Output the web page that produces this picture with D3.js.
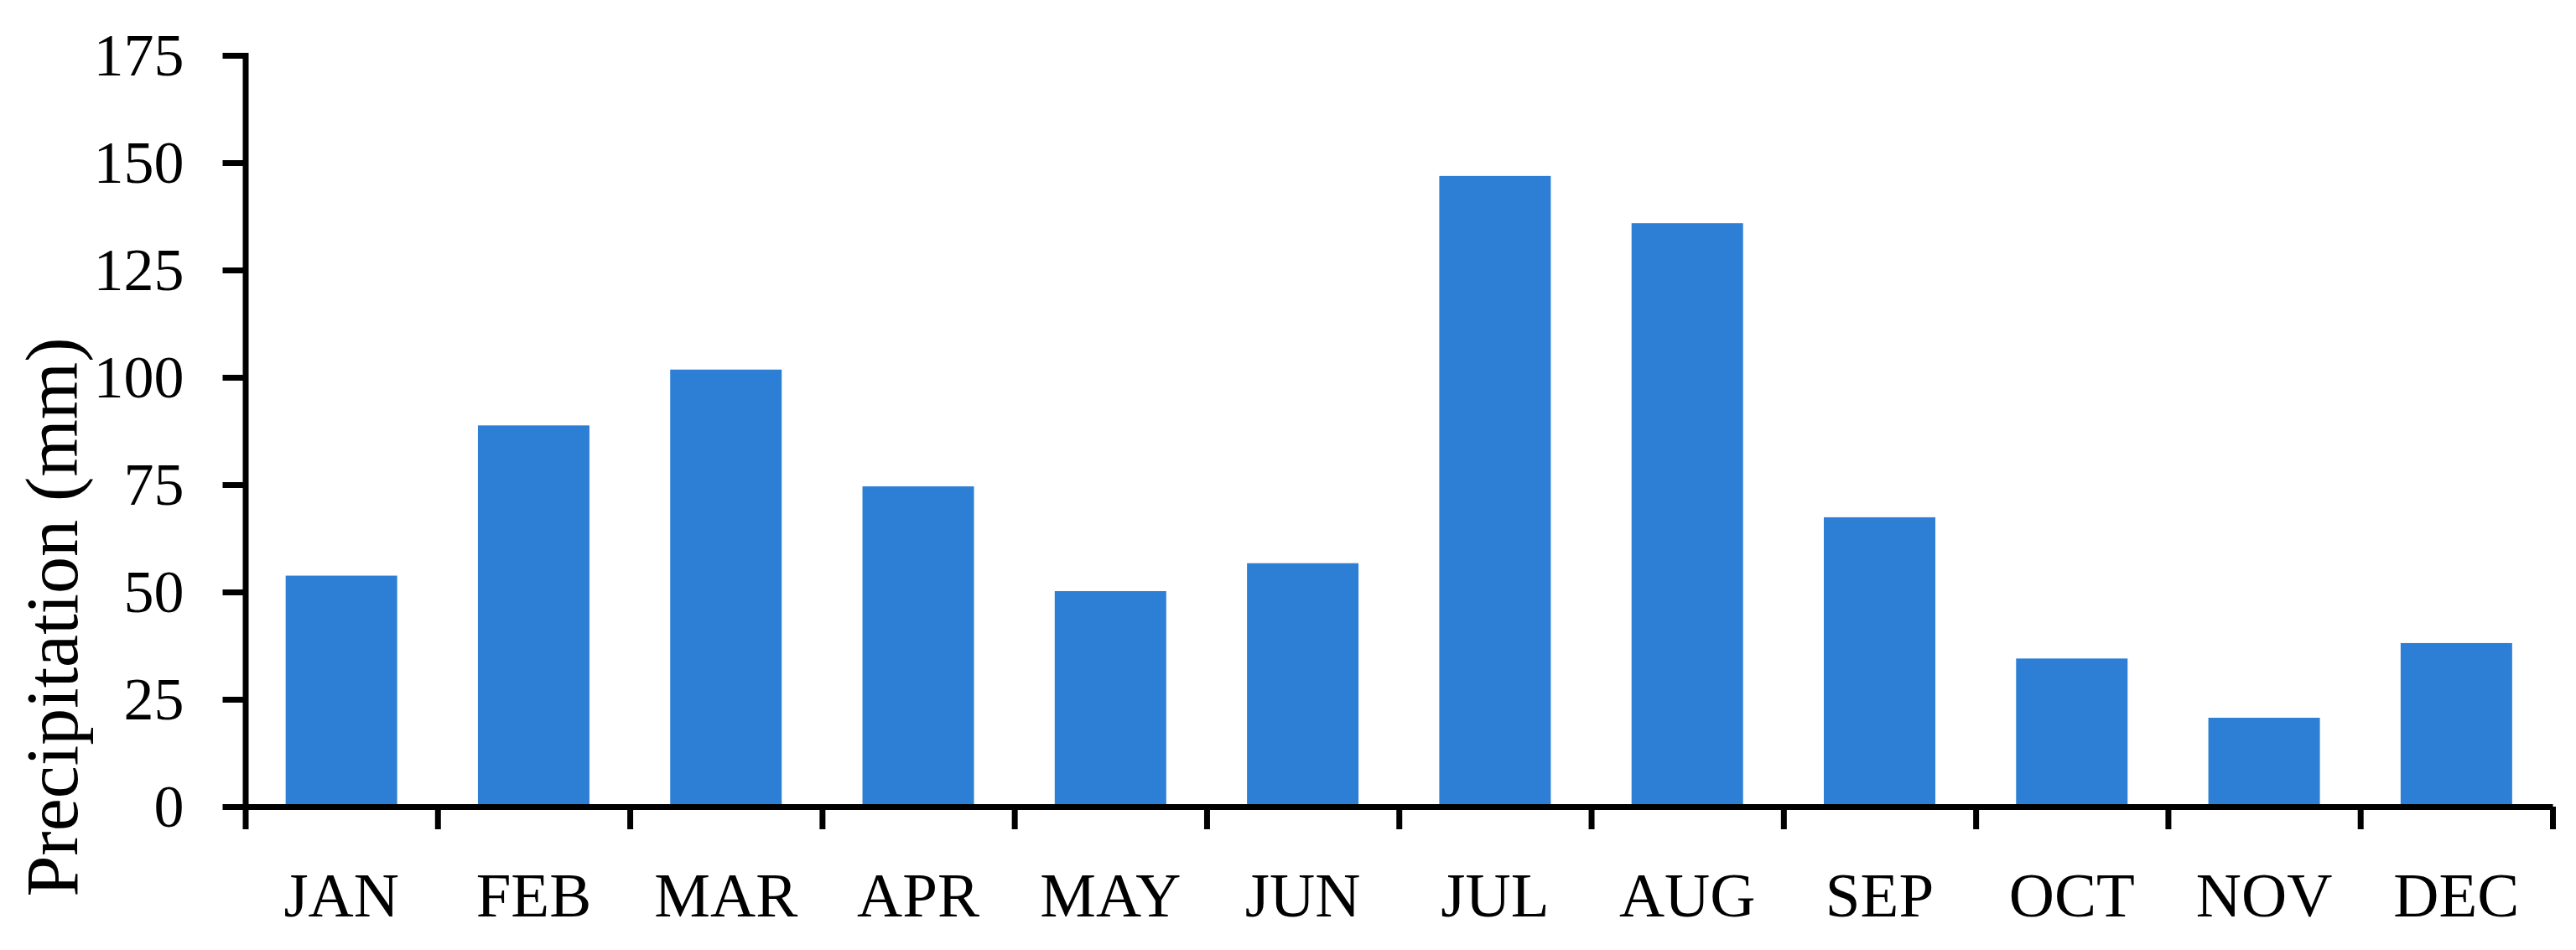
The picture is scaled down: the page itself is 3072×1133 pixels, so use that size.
<!DOCTYPE html>
<html>
<head>
<meta charset="utf-8">
<script src="https://cdn.jsdelivr.net/npm/d3@7"></script>
<style>
  body { margin: 0; background: #fff; }
  svg text { font-family: "Palatino Linotype", "Book Antiqua", Palatino, "Liberation Serif", "DejaVu Serif", serif; fill: #000; }
</style>
</head>
<body>
<script>
// monthly precipitation (mm)
const months = ["JAN", "FEB", "MAR", "APR", "MAY", "JUN", "JUL", "AUG", "SEP", "OCT", "NOV", "DEC"];
const precip = [53.8, 88.8, 101.8, 74.6, 50.2, 56.7, 146.9, 135.9, 67.4, 34.5, 20.7, 38.1];
const yTicks = [0, 25, 50, 75, 100, 125, 150, 175];

const w = 3072, h = 1133;
const plot = { left: 292.5, right: 3044, top: 66, bottom: 962 };

const svg = d3.select("body").append("svg")
    .attr("width", w)
    .attr("height", h);

// scales
const x = d3.scaleBand()
    .domain(months)
    .range([plot.left, plot.right])
    .paddingInner(0.42)
    .paddingOuter(0.21);

const xEdge = d3.scaleLinear()
    .domain([0, months.length])
    .range([plot.left, plot.right]);

const y = d3.scaleLinear()
    .domain([0, 175])
    .range([plot.bottom, plot.top]);

// bars
svg.selectAll("rect.bar")
    .data(precip)
    .enter()
    .append("rect")
    .attr("class", "bar")
    .attr("x", (d, i) => x(months[i]))
    .attr("y", d => y(d))
    .attr("width", x.bandwidth())
    .attr("height", d => y(0) - y(d))
    .attr("fill", "#2d7fd5");

// y axis
const yAxis = svg.append("g")
    .attr("transform", "translate(" + plot.left + ",0)")
    .call(d3.axisLeft(y).tickValues(yTicks).tickSizeInner(27).tickSizeOuter(0).tickPadding(46));
yAxis.selectAll("line, path").attr("stroke", "#000").attr("stroke-width", 7);
yAxis.select(".domain").attr("stroke-linecap", "square");
yAxis.selectAll("text").style("font-size", "72px");

// x axis: ticks at category edges
const xTickAxis = svg.append("g")
    .attr("transform", "translate(0," + plot.bottom + ")")
    .call(d3.axisBottom(xEdge).tickValues(d3.range(months.length + 1)).tickSizeInner(27).tickSizeOuter(0).tickFormat(""));
xTickAxis.selectAll("line, path").attr("stroke", "#000").attr("stroke-width", 7);

// x axis labels
const xLab = svg.append("g")
    .attr("transform", "translate(0," + plot.bottom + ")")
    .call(d3.axisBottom(x).tickSize(0).tickPadding(78));
xLab.select(".domain").remove();
xLab.selectAll("text").style("font-size", "75px");

// y axis title
svg.append("text")
    .attr("text-anchor", "middle")
    .attr("transform", "translate(" + 92 + "," + 736 + ")rotate(-90)")
    .style("font-size", "88px")
    .text("Precipitation (mm)");
</script>
</body>
</html>
